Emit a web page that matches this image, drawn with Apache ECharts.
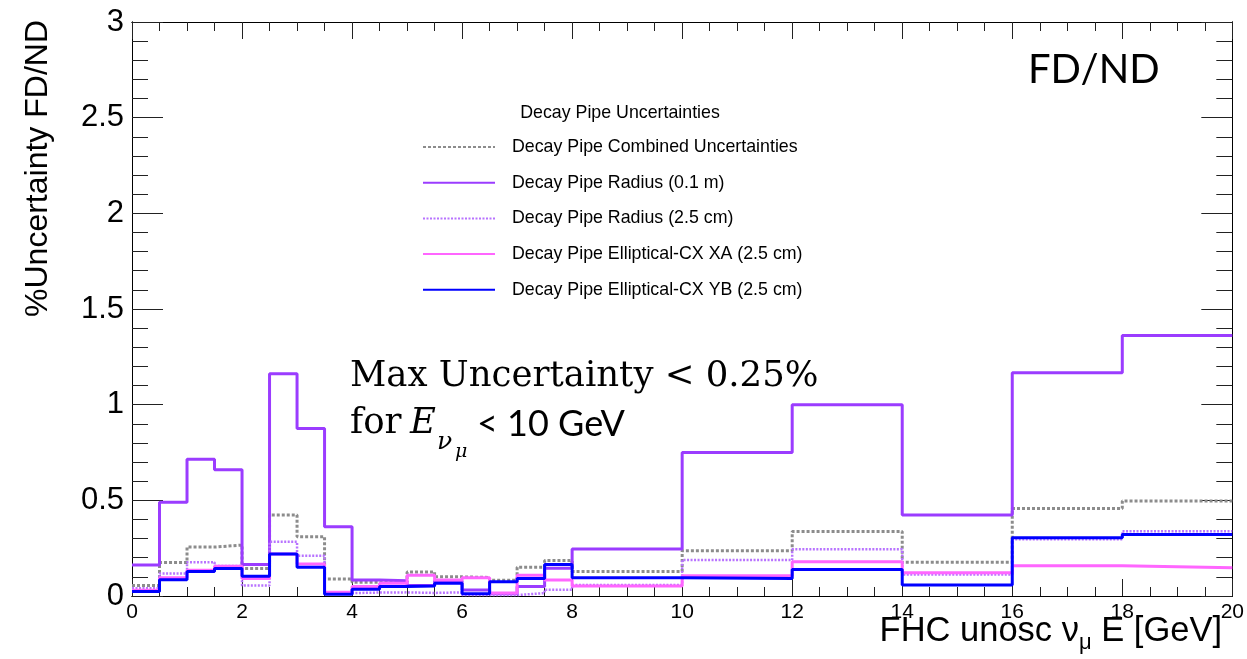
<!DOCTYPE html>
<html>
<head>
<meta charset="utf-8">
<script src="https://cdn.jsdelivr.net/npm/echarts@6/dist/echarts.min.js"></script>
<style>
html,body{margin:0;padding:0;background:#fff;}
#chart{width:1247px;height:659px;}
</style>
</head>
<body>
<div id="chart"></div>
<script>
// Bin edges (GeV)
const binEdges = [0,0.5,1,1.5,2,2.5,3,3.5,4,4.5,5,5.5,6,6.5,7,7.5,8,10,12,14,16,18,20];
// Series values per bin (22 bins)
const combined   = [0.055,0.175,0.256,0.266,0.144,0.423,0.310,0.089,0.072,0.076,0.126,0.100,0.097,0.082,0.150,0.185,0.128,0.236,0.337,0.176,0.457,0.496];
const radius01m  = [0.162,0.490,0.715,0.660,0.165,1.162,0.875,0.362,0.083,0.080,0.055,0.080,0.031,0.012,0.049,0.145,0.245,0.750,1.000,0.423,1.167,1.362];
const radius25cm = [0.040,0.118,0.176,0.157,0.055,0.283,0.210,0.015,0.018,0.019,0.016,0.019,0.005,0.005,0.015,0.033,0.058,0.188,0.244,0.113,0.296,0.339];
const ellipXA    = [0.030,0.095,0.135,0.155,0.092,0.219,0.167,0.019,0.049,0.066,0.108,0.083,0.096,0.016,0.108,0.083,0.052,0.106,0.179,0.122,0.158,0.148];
const ellipYB    = [0.023,0.085,0.128,0.144,0.103,0.219,0.150,0.009,0.035,0.050,0.052,0.066,0.012,0.075,0.092,0.164,0.096,0.092,0.139,0.057,0.304,0.322];
const seriesNames = [
  'Decay Pipe Combined Uncertainties',
  'Decay Pipe Radius (0.1 m)',
  'Decay Pipe Radius (2.5 cm)',
  'Decay Pipe Elliptical-CX XA (2.5 cm)',
  'Decay Pipe Elliptical-CX YB (2.5 cm)'
];
const xTickValues = [0,2,4,6,8,10,12,14,16,18,20];
const yTickValues = [0,0.5,1,1.5,2,2.5,3];

function histPoints(vals){
  const pts = vals.map((v,i)=>[binEdges[i], v]);
  pts.push([binEdges[binEdges.length-1], vals[vals.length-1]]);
  return pts;
}

const chart = echarts.init(document.getElementById('chart'), null, {renderer:'canvas'});
const FONT = '"Liberation Sans", Arial, Helvetica, sans-serif';
const SERIF = '"DejaVu Serif", "Liberation Serif", serif';
const frameLine = {show:true, onZero:false, lineStyle:{color:'#000', width:1}};

function mkX(pos, showLabel, interval, tickLen){
  return {
    type:'value', position:pos, min:0, max:20, interval:interval,
    axisLine: frameLine,
    axisTick:{show:true, inside:true, length:tickLen, lineStyle:{color:'#222'}},
    splitLine:{show:false},
    axisLabel:{show:showLabel, fontFamily:FONT, fontSize:21, color:'#000', margin:6,
      formatter:(v)=> xTickValues.includes(v) ? String(v) : ''}
  };
}
function mkY(pos, showLabel, interval, tickLen){
  return {
    type:'value', position:pos, min:0, max:3, interval:interval,
    axisLine: frameLine,
    axisTick:{show:true, inside:true, length:tickLen, lineStyle:{color:'#222'}},
    splitLine:{show:false},
    axisLabel:{show:showLabel, fontFamily:FONT, fontSize:31, color:'#000', margin:8,
      formatter:(v)=> yTickValues.includes(v) ? String(v) : ''}
  };
}

const styles = [
  {color:'#8c8c8c', width:3, type:[3,2]},
  {color:'#9b3cff', width:3, type:'solid'},
  {color:'#b873ff', width:2.5, type:[2,1.5]},
  {color:'#ff66ff', width:3, type:'solid'},
  {color:'#0000ff', width:3, type:'solid'}
];
const dataSets = [combined, radius01m, radius25cm, ellipXA, ellipYB];

const series = dataSets.map((d,i)=>({
  name: seriesNames[i], type:'line', step:'end', symbol:'none',
  xAxisIndex:0, yAxisIndex:0,
  data: histPoints(d),
  lineStyle: {color:styles[i].color, width:styles[i].width, type:styles[i].type},
  itemStyle: {color:styles[i].color},
  z: 2+i
}));

const option = {
  animation:false,
  backgroundColor:'#fff',
  grid:{left:132, right:14, top:22, bottom:63, containLabel:false},
  xAxis:[mkX('bottom', true, 2, 17), mkX('bottom', false, 0.5, 9), mkX('top', false, 2, 17), mkX('top', false, 0.5, 9)],
  yAxis:[mkY('left', true, 0.5, 31), mkY('left', false, 0.1, 16), mkY('right', false, 0.5, 31), mkY('right', false, 0.1, 16)],
  legend:{
    orient:'vertical', left:422, top:137, padding:0,
    itemWidth:72, itemHeight:14, itemGap:15.7,
    itemStyle:{opacity:0},
    textStyle:{fontFamily:FONT, fontSize:17.8, color:'#000', lineHeight:20, padding:[0,0,0,12]},
    data: seriesNames
  },
  series: series,
  graphic:[
    {type:'text', x:620, y:113, style:{text:'Decay Pipe Uncertainties', font:'17.8px ' + FONT, fill:'#000', align:'center', verticalAlign:'middle'}},
    {type:'text', x:38, y:20, rotation:Math.PI/2, style:{text:'%Uncertainty FD/ND', font:'32px ' + FONT, fill:'#000', align:'right', verticalAlign:'middle'}},
    {type:'text', x:1222, y:634, style:{
      text:'{n|FHC unosc ν}{s|μ}{n| E [GeV]}', align:'right', verticalAlign:'middle',
      rich:{
        n:{fontFamily:FONT, fontSize:34.5, fill:'#000', lineHeight:40, verticalAlign:'top'},
        s:{fontFamily:FONT, fontSize:22, fill:'#000', lineHeight:22, verticalAlign:'bottom'}
      }}},
    {type:'text', x:1028, y:70, style:{text:'FD/ND', font:'40px Lato, "Open Sans", sans-serif', fill:'#000', align:'left', verticalAlign:'middle'}},
    {type:'text', x:350, y:377, style:{text:'Max Uncertainty < 0.25%', font:'35.5px ' + SERIF, fill:'#000', align:'left', verticalAlign:'middle'}},
    {type:'text', x:350, y:424, style:{text:'for', font:'35.5px ' + SERIF, fill:'#000', align:'left', verticalAlign:'middle'}},
    {type:'text', x:410, y:424, style:{text:'E', font:'italic 35.5px ' + SERIF, fill:'#000', align:'left', verticalAlign:'middle'}},
    {type:'text', x:437, y:442, style:{text:'ν', font:'italic 25px ' + SERIF, fill:'#000', align:'left', verticalAlign:'middle'}},
    {type:'text', x:455, y:452, style:{text:'μ', font:'italic 19px ' + SERIF, fill:'#000', align:'left', verticalAlign:'middle'}},
    {type:'text', x:477, y:424, style:{text:'< 10 GeV', font:'36px Lato, "Open Sans", sans-serif', fill:'#000', align:'left', verticalAlign:'middle'}}
  ]
};
chart.setOption(option);
</script>
</body>
</html>
